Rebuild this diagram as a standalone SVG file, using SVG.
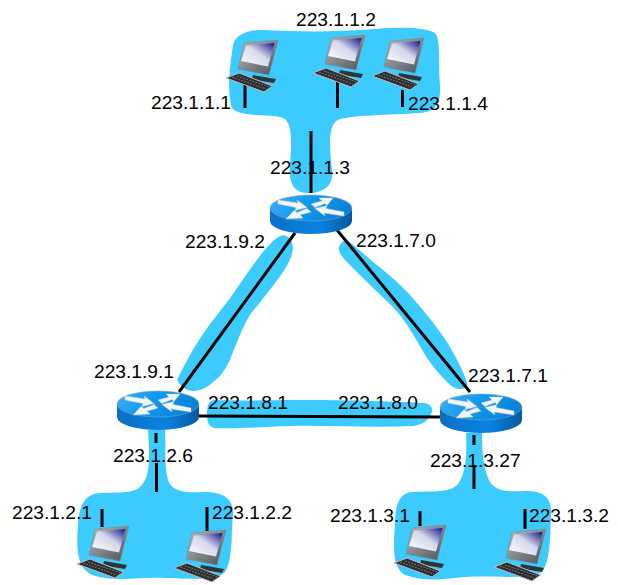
<svg xmlns="http://www.w3.org/2000/svg" xmlns:xlink="http://www.w3.org/1999/xlink" width="618" height="585" viewBox="0 0 618 585">
<style>
.net{fill:#3ccbff;stroke:none}
.wire{stroke:#000;stroke-width:3;fill:none}
.lbl{font-family:"Liberation Sans",Arial,sans-serif;font-size:19.2px;fill:#000}
</style>
<defs>
<linearGradient id="rTop" x1="0" y1="0" x2="1" y2="0.3"><stop offset="0" stop-color="#3fb0f6"/><stop offset="0.55" stop-color="#0f97ec"/><stop offset="1" stop-color="#0a82da"/></linearGradient>
<linearGradient id="rSide" x1="0" y1="0" x2="1" y2="0"><stop offset="0" stop-color="#0a6fc4"/><stop offset="0.6" stop-color="#0a82e2"/><stop offset="1" stop-color="#07599f"/></linearGradient>
<linearGradient id="scr" x1="0" y1="1" x2="1" y2="0"><stop offset="0" stop-color="#fff"/><stop offset="0.55" stop-color="#d5d7ea"/><stop offset="1" stop-color="#10148a"/></linearGradient>
<linearGradient id="frm" x1="0" y1="0" x2="1" y2="1"><stop offset="0" stop-color="#b4bcc0"/><stop offset="1" stop-color="#4c5458"/></linearGradient>
<symbol id="router" overflow="visible" viewBox="-42 -14 84 40" width="84" height="40" x="-42" y="-14">
<path d="M-41,0 V13 A41,13 0 0 0 41,13 V0 Z" fill="url(#rSide)"/>
<ellipse cx="0" cy="0" rx="41" ry="13" fill="url(#rTop)" stroke="#6fa6c8" stroke-width="0.6"/>
<g fill="#f2f4f6" stroke="#c6d2da" stroke-width="0.5">
<polygon points="-33,-8 -13,-5 -14,-8 -4,-0.5 -16,2.500 -15,-0.500 -33,-4"/>
<polygon points="33,8 13,5 14,8 4,0.5 16,-2.500 15,0.500 33,4"/>
<polygon points="0,-4 11,-7 8,-10 22,-10 16,-2.500 14,-4.500 4,-0.500"/>
<polygon points="0,4 -11,7 -8,10 -25,11 -17,2.500 -14,4.500 -4,0.500"/>
</g>
</symbol>
<symbol id="pc" overflow="visible" viewBox="0 0 56 60" width="56" height="60">
<polygon points="27,39 50,43 48,47 36,45 26,43" fill="#2f3436"/>
<polygon points="18,7 52,4 43,39 12,33" fill="url(#frm)" stroke="#7d8589" stroke-width="0.5"/>
<polygon points="20,9.5 48.500,7 42,30.500 15,25" fill="url(#scr)"/>
<polygon points="0,42 13,37 46.500,50 38,56" fill="#2c3032" stroke="#b8bcbe" stroke-width="1"/>
<path d="M6,41 L40,53 M11,40 L44,51" stroke="#8d9193" stroke-width="0.7" stroke-dasharray="2 1.200" fill="none"/>
</symbol>
</defs>

<g id="networks">
<path class="net" d="M233,45 C236,33 250,30 262,30 C300,32 340,32 375,29 C400,27 425,27 435,33 C441,40 438,60 440,85 C441,105 435,112 420,113 C390,115 350,115 338,120 C327,125 330,150 332,170 C334,185 325,192 310,193 C295,194 288,185 290,165 C292,140 292,122 283,118 C270,113 240,118 232,108 C226,90 231,60 233,45 Z"/>
<path class="net" d="M280,236 C287,233 293,240 293,248 C292,258 287,266 283,272 C272,288 260,302 250,315 C242,328 238,340 233,352 C228,366 222,376 213,382 C206,389 198,391 193,391 C186,391 180,386 177,380 C185,364 192,350 201,337 C212,320 226,305 237,288 C246,275 255,262 263,252 C269,245 274,239 280,236 Z"/>
<path class="net" d="M339,247 C341,242 344,240 347,240 C355,246 364,254 373,262 C386,272 399,283 410,295 C421,307 431,320 440,332 C451,347 460,364 467,382 C468,387 465,389 460,389 C455,389 451,386 447,382 C440,375 433,367 427,358 C418,343 410,328 400,315 C391,304 380,295 370,285 C362,277 354,269 347,262 C342,257 338,252 339,247 Z"/>
<path class="net" d="M214,400 C250,401 270,400 300,400 C340,400 390,401 424,403 C431,404 433,408 432,412 C429,420 423,425 412,426 C370,428 330,425 290,426 C260,427 235,429 214,428 C208,426 207,421 207,414 C207,407 208,401 214,400 Z"/>
<path class="net" d="M148,430 C150,460 150,478 140,487 C133,494 115,492 100,493 C85,494 79,505 78,525 C76,550 77,570 95,576 C120,582 140,577 165,578 C190,578 215,582 225,572 C233,560 231,535 233,515 C234,498 222,492 205,492 C185,493 172,492 168,480 C164,465 166,450 165,430 Z"/>
<path class="net" d="M466,433 C467,455 466,473 458,484 C451,493 430,491 412,492 C399,493 395,505 395,525 C393,550 393,568 405,575 C425,582 445,579 465,577 C490,575 525,580 540,573 C551,565 550,535 551,515 C552,498 545,491 525,491 C505,492 493,491 488,478 C483,465 482,450 482,433 Z"/>
</g>

<g id="connectors">
<path class="wire" d="M311,131 V193"/>
<path class="wire" d="M245,85 V108"/>
<path class="wire" d="M337.500,82 V108"/>
<path class="wire" stroke-width="2" d="M402.500,90 V107"/>
<path class="wire" d="M295,233 L179,392"/>
<path class="wire" d="M337,230 L470,392"/>
<path class="wire" d="M199,416 L440,417"/>
<path class="wire" d="M156,433 V443 M156.500,463 V492"/>
<path class="wire" d="M474,435 V445 M474,465 V489"/>
<path class="wire" d="M102,509 V527"/>
<path class="wire" d="M207,507 V531"/>
<path class="wire" d="M420,511 V526"/>
<path class="wire" d="M525,509 V529"/>
</g>

<g id="host-1"><use xlink:href="#pc" href="#pc" x="226" y="36"/></g>
<g id="host-2"><use xlink:href="#pc" href="#pc" x="313" y="31"/></g>
<g id="host-3"><use xlink:href="#pc" href="#pc" x="372" y="34"/></g>
<g id="host-4"><use xlink:href="#pc" href="#pc" x="77" y="522"/></g>
<g id="host-5"><use xlink:href="#pc" href="#pc" x="174" y="526"/></g>
<g id="host-6"><use xlink:href="#pc" href="#pc" x="394" y="521"/></g>
<g id="host-7"><use xlink:href="#pc" href="#pc" x="494" y="525"/></g>

<g id="router-top"><use xlink:href="#router" href="#router" x="311" y="208"/></g>
<g id="router-left"><use xlink:href="#router" href="#router" x="158" y="404"/></g>
<g id="router-right"><use xlink:href="#router" href="#router" x="481" y="407"/></g>

<g id="labels">
<text class="lbl" x="296" y="26">223.1.1.2</text>
<text class="lbl" x="151" y="109">223.1.1.1</text>
<text class="lbl" x="408" y="110">223.1.1.4</text>
<text class="lbl" x="270" y="174">223.1.1.3</text>
<text class="lbl" x="185" y="248">223.1.9.2</text>
<text class="lbl" x="356" y="247">223.1.7.0</text>
<text class="lbl" x="94" y="378">223.1.9.1</text>
<text class="lbl" x="468" y="382">223.1.7.1</text>
<text class="lbl" x="208" y="409">223.1.8.1</text>
<text class="lbl" x="338" y="409">223.1.8.0</text>
<text class="lbl" x="113" y="462">223.1.2.6</text>
<text class="lbl" x="430" y="467">223.1.3.27</text>
<text class="lbl" x="12" y="519">223.1.2.1</text>
<text class="lbl" x="212" y="519">223.1.2.2</text>
<text class="lbl" x="330" y="522">223.1.3.1</text>
<text class="lbl" x="529" y="522">223.1.3.2</text>
</g>
</svg>
